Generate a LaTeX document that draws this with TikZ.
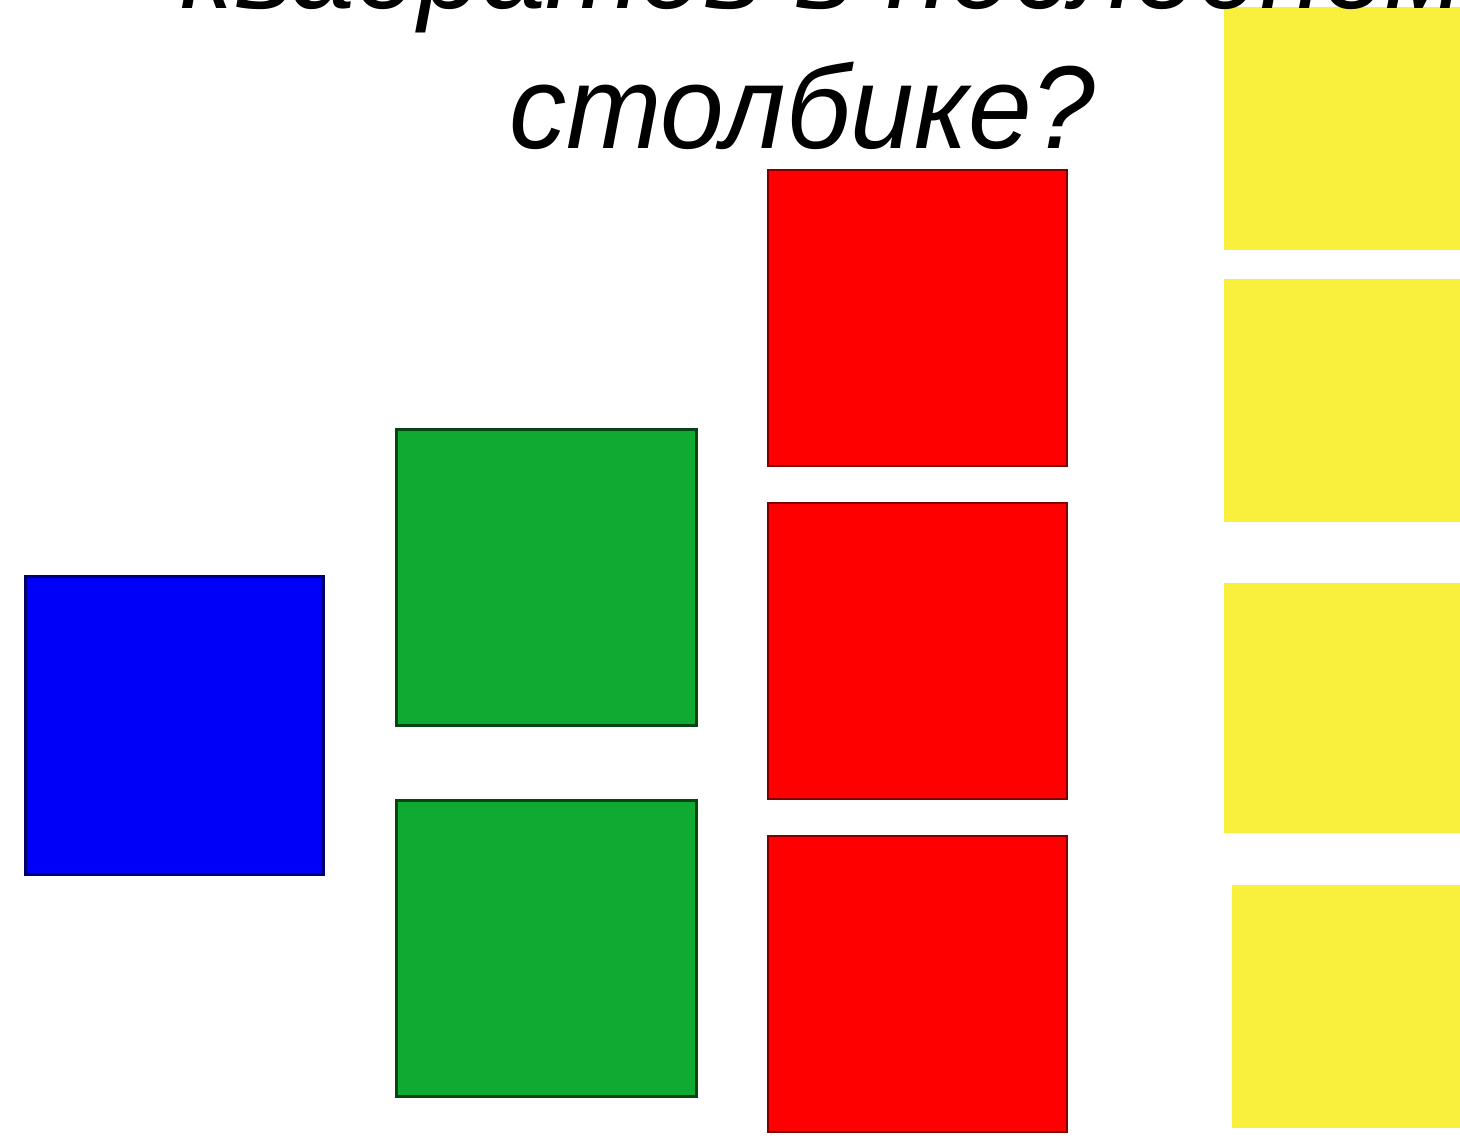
\documentclass[tikz,border=0pt]{standalone}
\usepackage{fontspec}
\setmainfont{Liberation Sans}
\newfontfamily\qfont{Liberation Sans}[FakeStretch=0.97]
\usepackage{tikz}

\definecolor{sqblue}{RGB}{0,0,250}
\definecolor{sqgreen}{RGB}{14,170,50}
\definecolor{sqred}{RGB}{255,0,0}
\definecolor{sqyellow}{RGB}{249,240,62}

\tikzset{
  bluesq/.style={fill=sqblue, draw=sqblue!45!black, line width=3pt},
  greensq/.style={fill=sqgreen, draw=sqgreen!40!black, line width=3pt},
  redsq/.style={fill=sqred, draw=sqred!50!black, line width=2.5pt},
  yellowsq/.style={fill=sqyellow},
  question/.style={anchor=base west, inner sep=0pt, font=\qfont\fontsize{118}{140}\selectfont\itshape}
}

\begin{document}
\begin{tikzpicture}[x=1pt, y=-1pt]
    \useasboundingbox (0,0) rectangle (1460,1138);
    \clip (0,0) rectangle (1460,1138);
    \fill[white] (0,0) rectangle (1460,1138);
    % first column
    \draw[bluesq] (25,576) rectangle (323,874);
    % second column
    \foreach \y in {429,800}
        \draw[greensq] (396,\y) rectangle (696,\y+296);
    % third column
    \foreach \y in {170,503,836}
        \draw[redsq] (768,\y) rectangle (1067,\y+296);
    % last column
    \foreach \x/\y/\h in {1224/7/243, 1224/279/243, 1224/583/250, 1232/885/243}
        \fill[yellowsq] (\x,\y) rectangle (1460,\y+\h);
    % question text
    \node[question] (line1) at (180,8) {квадратов в последнем};
    \node[question] (line2) at (509,148) {столбике?};
\end{tikzpicture}
\end{document}
